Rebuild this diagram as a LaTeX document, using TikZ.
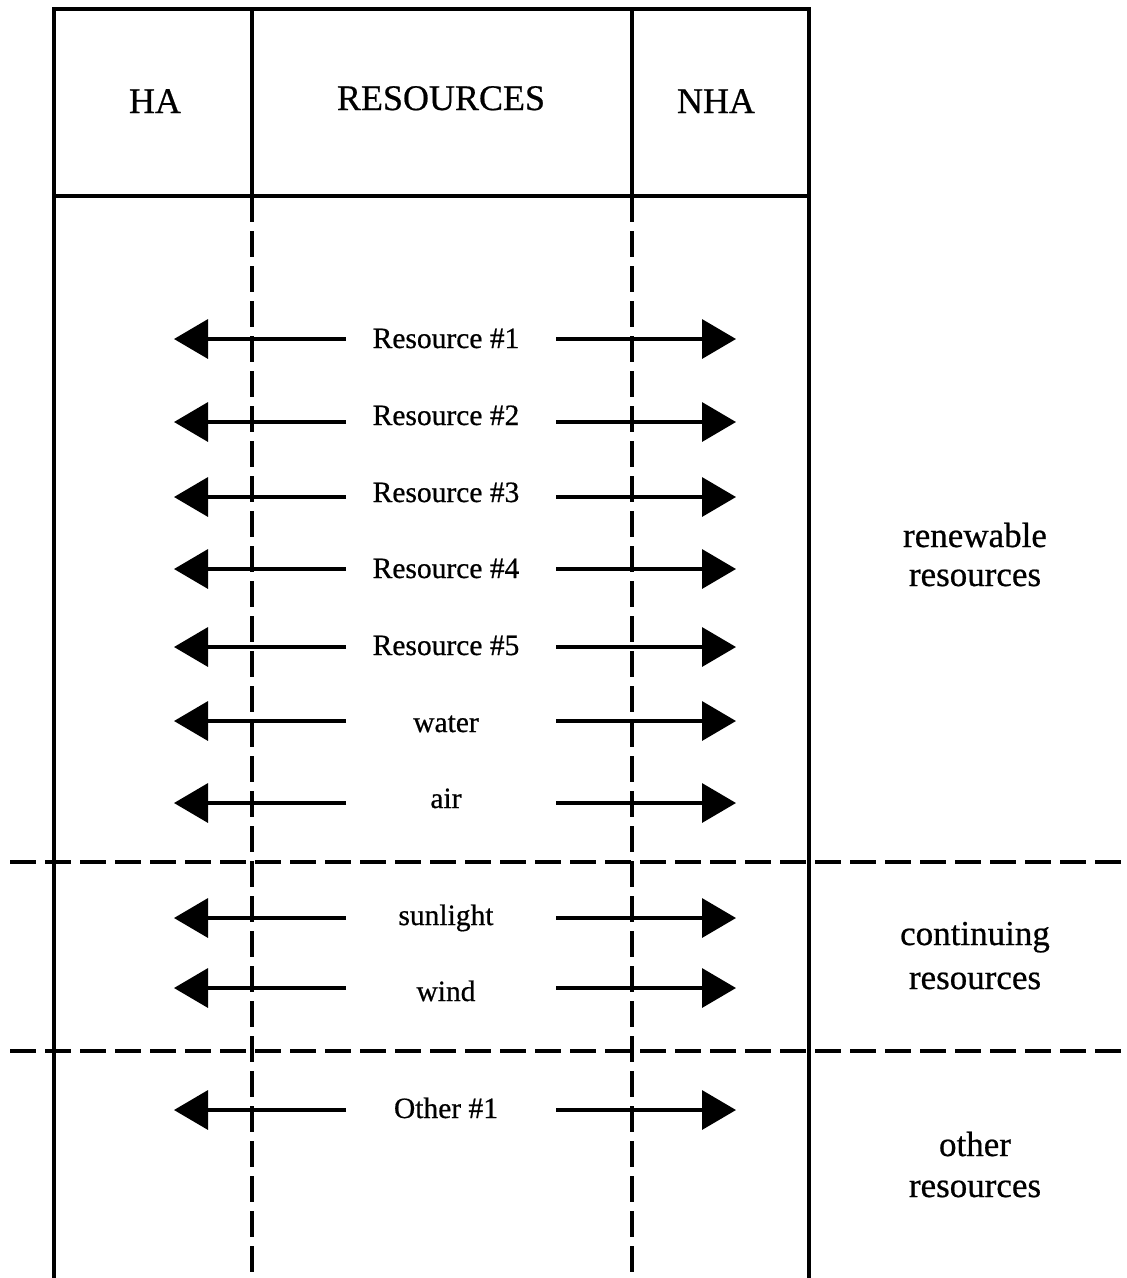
\documentclass[tikz,border=0pt]{standalone}
\usepackage{fontspec}
\setmainfont{Liberation Serif}[FakeBold=0.6]
\usetikzlibrary{arrows.meta}
\begin{document}
\begin{tikzpicture}[x=1pt,y=-1pt,
  frame/.style={line width=3.5pt, line cap=rect},
  dline/.style={line width=3.5pt, dash pattern=on 26pt off 9pt},
  arr/.style={line width=3.5pt, -{Triangle[length=34pt,width=39pt]}},
  lab/.style={font=\fontsize{29.5}{31}\selectfont, anchor=base, inner sep=0pt},
  head/.style={font=\fontsize{36}{40}\selectfont, anchor=base, inner sep=0pt},
  side/.style={font=\fontsize{35}{40}\selectfont, anchor=base, inner sep=0pt}]
\useasboundingbox (0,0) rectangle (1127,1278);
% frame corners
\coordinate (tl) at (54,9);
\coordinate (tr) at (809,9);
\coordinate (bl) at (54,1278);
\coordinate (br) at (809,1278);
\coordinate (hl) at (54,196);
\coordinate (hr) at (809,196);
\coordinate (c1t) at (252,9);
\coordinate (c1m) at (252,196);
\coordinate (c1b) at (252,1278);
\coordinate (c2t) at (632,9);
\coordinate (c2m) at (632,196);
\coordinate (c2b) at (632,1278);
% horizontal dashed separators
\coordinate (s1a) at (10,862);
\coordinate (s1b) at (1127,862);
\coordinate (s2a) at (10,1051);
\coordinate (s2b) at (1127,1051);
\draw[dline] (s1a) -- (s1b);
\draw[dline] (s2a) -- (s2b);
% frame
\draw[frame] (bl) -- (tl) -- (tr) -- (br);
\draw[frame] (hl) -- (hr);
\draw[frame] (c1t) -- (c1m);
\draw[frame] (c2t) -- (c2m);
\draw[dline] (c1m) -- (c1b);
\draw[dline] (c2m) -- (c2b);
% header labels
\node[head] (ha) at (155,113) {HA};
\node[head] (res) at (441,110) {RESOURCES};
\node[head] (nha) at (716,113) {NHA};
% rows
\foreach \n/\ya/\yb/\t in {r1/339/348/Resource \#1, r2/422/425/Resource \#2,
  r3/497/502/Resource \#3, r4/569/578/Resource \#4, r5/647/655/Resource \#5,
  water/721/732/water, air/803/808/air, sun/918/925/sunlight,
  wind/988/1001/wind, oth/1110/1118/Other \#1}{
  \node[lab] (\n) at (446,\yb) {\t};
  \coordinate (\n-ls) at (346,\ya);
  \coordinate (\n-lt) at (174,\ya);
  \coordinate (\n-rs) at (556,\ya);
  \coordinate (\n-rt) at (736,\ya);
  \draw[arr] (\n-ls) -- (\n-lt);
  \draw[arr] (\n-rs) -- (\n-rt);
}
% side labels
\node[side] (ren1) at (975,547) {renewable};
\node[side] (ren2) at (975,586) {resources};
\node[side] (con1) at (975,945) {continuing};
\node[side] (con2) at (975,989) {resources};
\node[side] (oth1) at (975,1156) {other};
\node[side] (oth2) at (975,1197) {resources};
\end{tikzpicture}
\end{document}
